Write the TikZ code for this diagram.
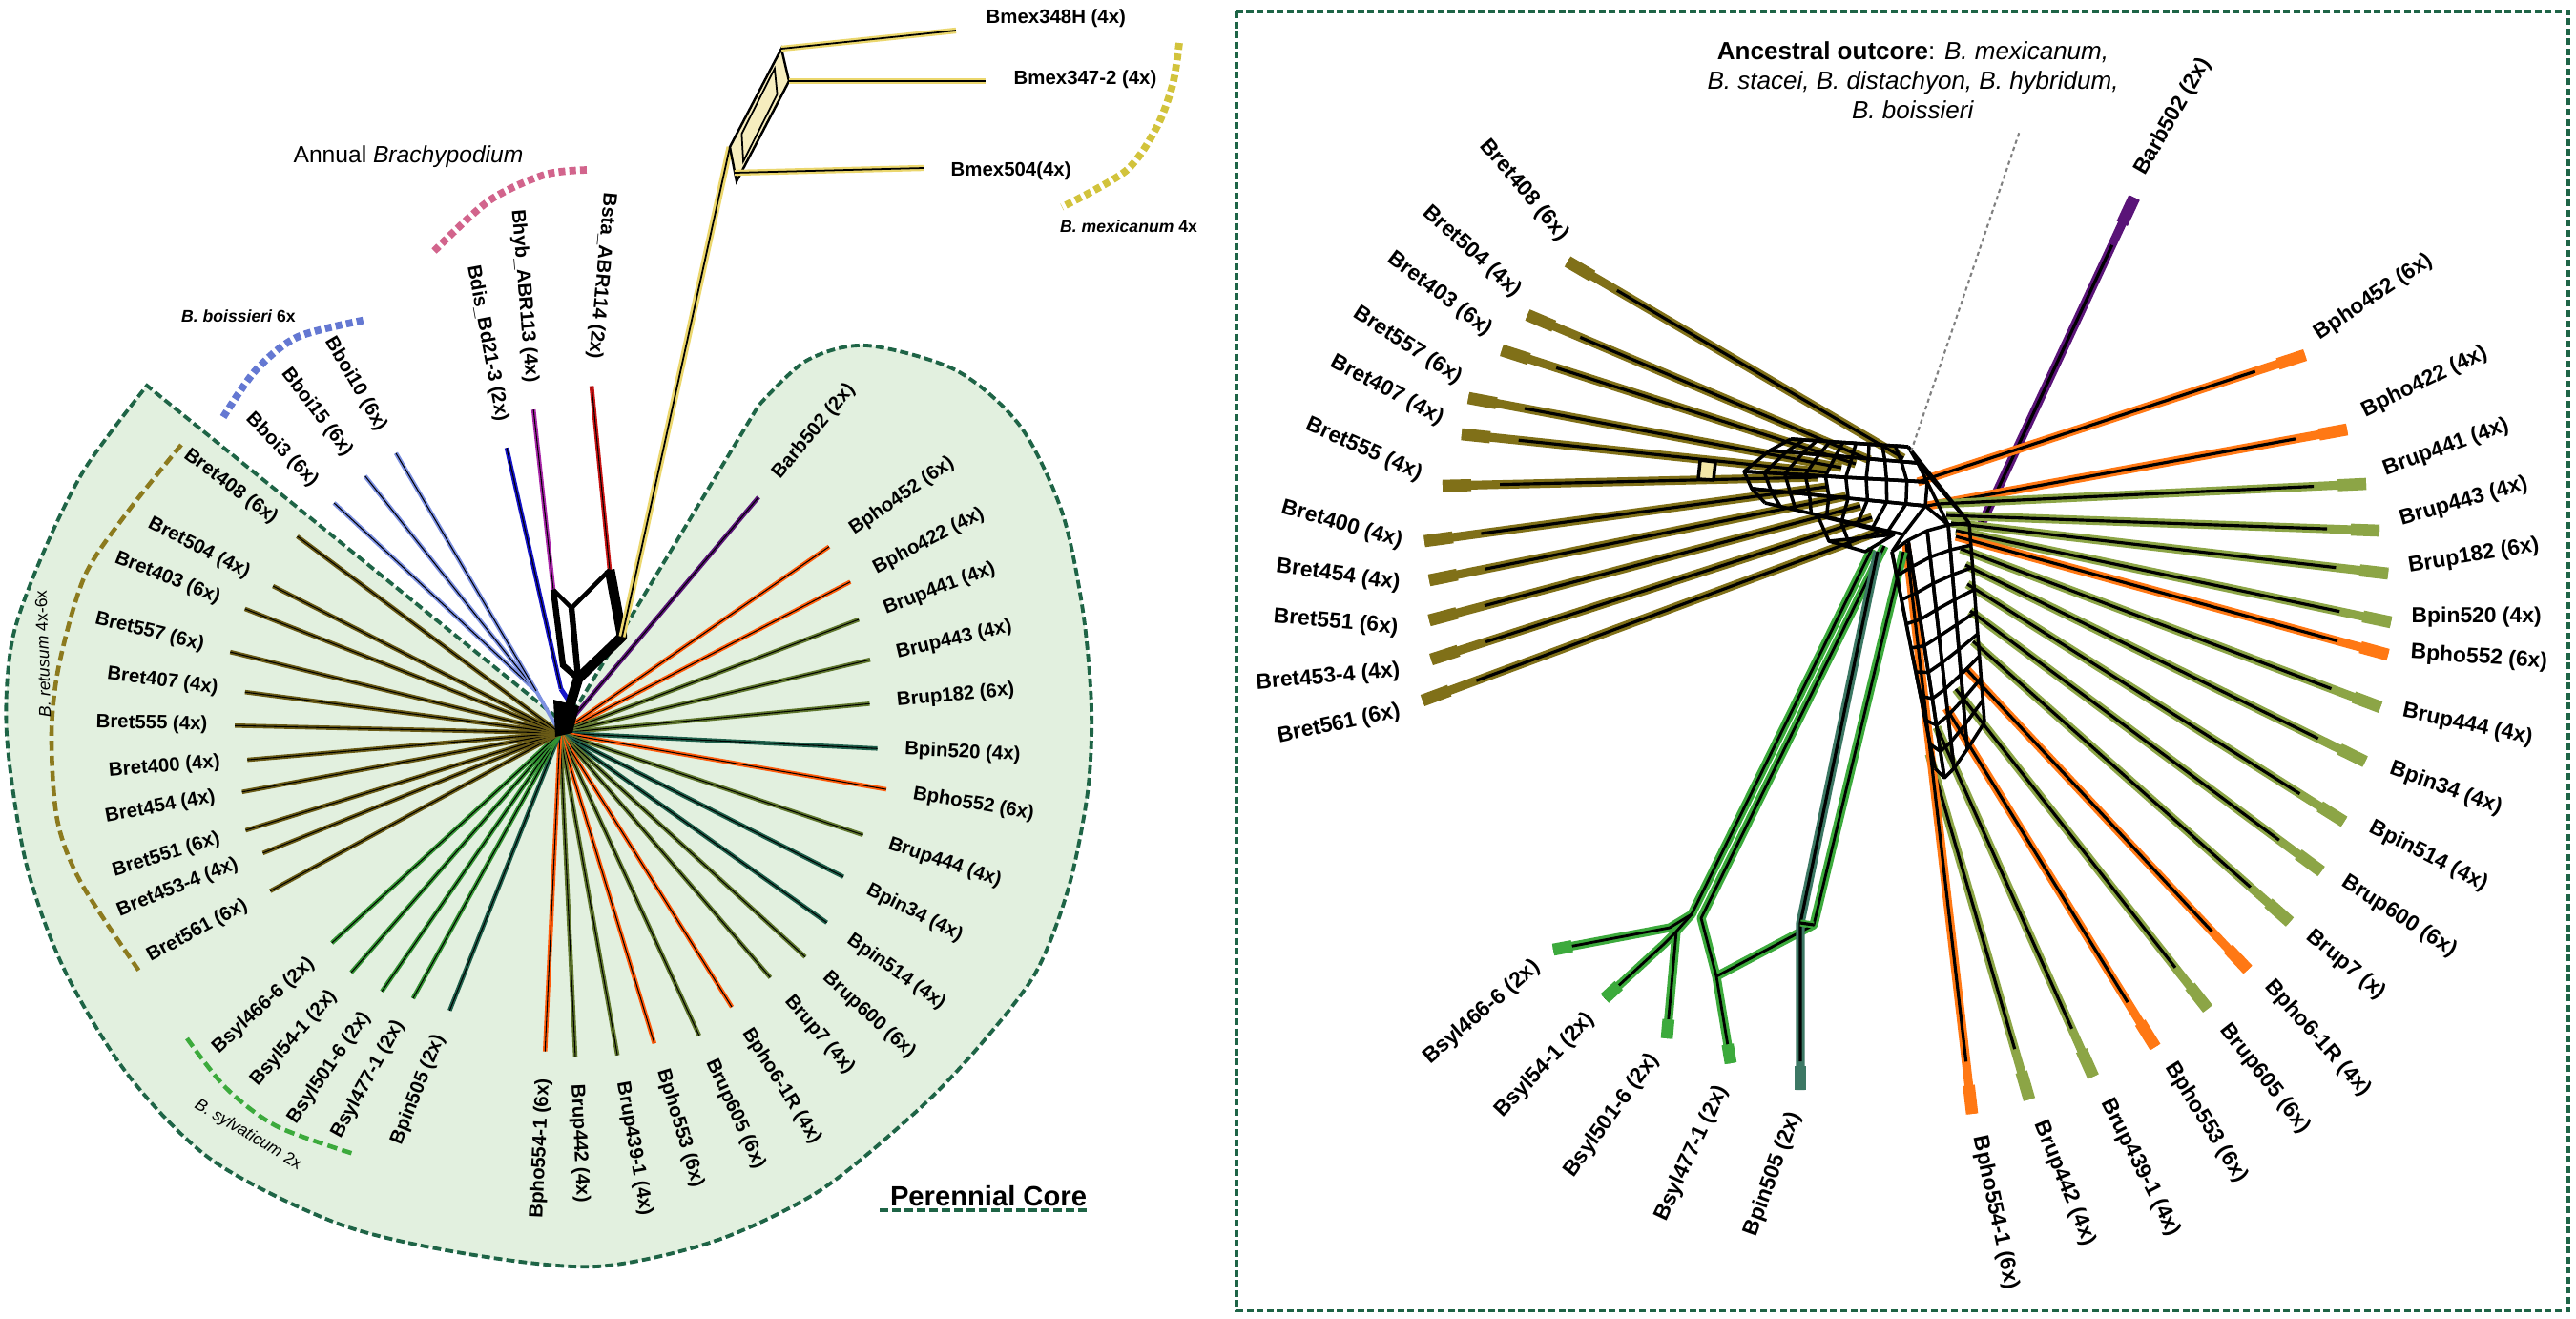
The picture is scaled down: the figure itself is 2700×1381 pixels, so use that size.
\documentclass[tikz,border=0pt]{standalone}
\usepackage{fontspec}
\setmainfont{Liberation Sans}
\usetikzlibrary{calc}

\definecolor{corefill}{RGB}{226,240,223}
\definecolor{coreline}{RGB}{30,100,70}
\definecolor{retL}{RGB}{105,90,22}
\definecolor{phoL}{RGB}{255,90,10}
\definecolor{rupL}{RGB}{95,118,45}
\definecolor{pinL}{RGB}{30,95,75}
\definecolor{sylL}{RGB}{50,145,50}
\definecolor{boiL}{RGB}{125,145,225}
\definecolor{disL}{RGB}{20,20,200}
\definecolor{hybL}{RGB}{170,40,170}
\definecolor{staL}{RGB}{200,20,20}
\definecolor{arbL}{RGB}{90,20,120}
\definecolor{mexL}{RGB}{235,215,110}
\definecolor{retR}{RGB}{128,112,24}
\definecolor{phoR}{RGB}{255,120,20}
\definecolor{rupR}{RGB}{140,165,70}
\definecolor{sylR}{RGB}{60,170,60}
\definecolor{pinR}{RGB}{60,120,100}
\definecolor{annArc}{RGB}{210,100,140}
\definecolor{boiArc}{RGB}{100,120,210}
\definecolor{mexArc}{RGB}{210,195,60}
\definecolor{retArc}{RGB}{140,122,30}

\tikzset{
  taxon/.style={font=\bfseries\fontsize{5.8}{6}\selectfont, inner sep=0pt},
  taxonR/.style={font=\bfseries\fontsize{6.5}{7}\selectfont, inner sep=0pt},
  grouplab/.style={font=\fontsize{5}{6}\selectfont, inner sep=0pt},
  branch/.style={line width=1.3pt},
  core/.style={line width=0.3pt, black},
  band/.style={line width=2.6pt},
  bandtip/.style={line width=3.6pt},
  bandcore/.style={line width=0.9pt, black},
  mesh/.style={line width=1pt, black, line join=round},
  grouparc/.style={line width=2.2pt, dash pattern=on 2pt off 1.2pt},
  coredash/.style={coreline, line width=1.1pt, dash pattern=on 2.5pt off 1.2pt}
}

\begin{document}
\begin{tikzpicture}[x=0.01cm,y=-0.01cm]
\useasboundingbox (0,0) rectangle (2700,1381);

% perennial core
\draw[coredash, fill=corefill] (584,752) -- (154,404) -- plot[smooth] coordinates {(154,404) (89,491) (45,580) (13,670) (7,769) (27,903) (67,1015) (134,1126) (223,1216) (357,1283) (491,1314) (625,1327) (750,1300) (860,1247) (960,1165) (1023,1100) (1085,1020) (1120,930) (1140,830) (1144,742) (1135,640) (1113,536) (1069,446) (1002,388) (908,362) (845,378) (795,425)} -- (606,738) -- cycle;

\draw[retArc, line width=1.3pt, dash pattern=on 3pt off 1.5pt] plot[smooth] coordinates {(190,466) (134,536) (89,603) (62,696) (54,769) (60,859) (85,925) (147,1019)};
\draw[sylR, line width=1.3pt, dash pattern=on 3pt off 1.5pt] plot[smooth] coordinates {(196,1088) (237,1140) (290,1180) (371,1209)};
\draw[grouparc, boiArc] plot[smooth] coordinates {(234,437) (268,388) (312,353) (384,335)};
\draw[grouparc, annArc] plot[smooth] coordinates {(455,263) (513,210) (571,183) (616,178)};
\draw[grouparc, mexArc] plot[smooth] coordinates {(1236,45) (1229,89) (1212,134) (1180,179) (1113,217)};

\node[font=\fontsize{7}{8}\selectfont] (annual) at (428,164) {Annual \textit{Brachypodium}};
\node[grouplab, font=\bfseries\fontsize{5}{6}\selectfont] (boiss) at (250,331) {\textit{B. boissieri} 6x};
\node[grouplab, font=\bfseries\fontsize{5}{6}\selectfont] (mexic) at (1183,237) {\textit{B. mexicanum} 4x};
\node[grouplab, rotate=92] (retus) at (45,685) {\textit{B. retusum} 4x-6x};
\node[grouplab, rotate=-31] (sylva) at (260,1189) {\textit{B. sylvaticum} 2x};
\node[font=\bfseries\fontsize{8.3}{9}\selectfont, inner sep=0pt] (perc) at (1036,1253) {Perennial Core};
\coordinate (pcA) at (922,1268);
\coordinate (pcB) at (1143,1268);
\draw[coredash] (pcA) -- (pcB);

% left network
\coordinate (L) at (587,768);
\coordinate (nA) at (580,618);
\coordinate (nB) at (599,637);
\coordinate (nC) at (639,597);
\coordinate (nD) at (652,667);
\coordinate (nE) at (590,697);
\coordinate (nF) at (606,711);
\coordinate (nG) at (598,737);
\coordinate (kB) at (562,724);
\coordinate (kD) at (588,722);

\foreach \ang/\rad/\col/\txt [count=\idx] in {
  49.9/323/arbL/Barb502 (2x), 34.7/343/phoL/Bpho452 (6x),
  27.5/343/phoL/Bpho422 (4x), 20.8/335/rupL/Brup441 (4x),
  13.3/334/rupL/Brup443 (4x), 5.4/326/rupL/Brup182 (6x),
  -2.8/333/pinL/Bpin520 (4x), -9.8/347/phoL/Bpho552 (6x),
  -18.6/335/rupL/Brup444 (4x), -26.9/333/pinL/Bpin34 (4x),
  -35.4/343/pinL/Bpin514 (4x), -42.4/348/rupL/Brup600 (6x),
  -49.3/338/rupL/Brup7 (4x), -57.9/339/phoL/Bpho6-1R (4x),
  -65.3/349/rupL/Brup605 (6x), -73.1/340/phoL/Bpho553 (6x),
  -79.9/343/rupL/Brup439-1 (4x), -87.3/340/rupL/Brup442 (4x)}{
  \coordinate (lr\idx) at ($(L)+({-1*(\ang)}:\rad)$);
  \draw[branch,\col] (L) -- (lr\idx);
  \draw[core] (L) -- (lr\idx);
  \node[taxon, anchor=west, rotate=\ang] (lrn\idx) at ($(L)+({-1*(\ang)}:{\rad+28})$) {\txt};
}

\foreach \ang/\rad/\col/\txt [count=\idx] in {
  267.3/334/phoL/Bpho554-1 (6x), 248.3/313/pinL/Bpin505 (2x),
  241/318/sylL/Bsyl477-1 (2x), 235.4/329/sylL/Bsyl501-6 (2x),
  228.9/333/sylL/Bsyl54-1 (2x), 222.6/325/sylL/Bsyl466-6 (2x),
  208.6/346/retL/Bret561 (6x), 202/336/retL/Bret453-4 (4x),
  197.2/345/retL/Bret551 (6x), 190.5/339/retL/Bret454 (4x),
  184.9/329/retL/Bret400 (4x), 178.7/341/retL/Bret555 (4x),
  172.6/333/retL/Bret407 (4x), 166.2/356/retL/Bret557 (6x),
  158.5/355/retL/Bret403 (6x), 152.9/338/retL/Bret504 (4x),
  143.2/344/retL/Bret408 (6x)}{
  \coordinate (ll\idx) at ($(L)+({-1*(\ang)}:\rad)$);
  \draw[branch,\col] (L) -- (ll\idx);
  \draw[core] (L) -- (ll\idx);
  \node[taxon, anchor=east, rotate=\ang-180] (lln\idx) at ($(L)+({-1*(\ang)}:{\rad+28})$) {\txt};
}

\foreach \ang/\rad/\col/\txt/\via [count=\idx] in {
  134.5/338/boiL/Bboi3 (6x)/kB, 127.2/338/boiL/Bboi15 (6x)/kB,
  120.4/340/boiL/Bboi10 (6x)/kB, 100.6/304/disL/Bdis\_Bd21-3 (2x)/kD,
  94.7/340/hybL/Bhyb\_ABR113 (4x)/nA, 84.8/365/staL/Bsta\_ABR114 (2x)/nC}{
  \coordinate (lu\idx) at ($(L)+({-1*(\ang)}:\rad)$);
  \draw[branch,\col] (lu\idx) -- (\via);
  \draw[core] (lu\idx) -- (\via);
  \node[taxon, anchor=east, rotate=\ang-180] (lun\idx) at ($(L)+({-1*(\ang)}:{\rad+28})$) {\txt};
}
\draw[boiL, line width=1.1pt] (kB) -- (L);
\draw[disL, line width=1.4pt] (kD) -- (nG);

\draw[line width=1.3pt] (nA) -- (nB) -- (nC);
\draw[line width=1.8pt] (nA) -- (nE) -- (nF);
\draw[line width=1.8pt] (nB) -- (nF);
\draw[line width=3pt, line join=round] (nC) -- (nD) -- (nF) -- (nG) -- (L);
\fill (580,733) -- (607,740) -- (600,768) -- (582,772) -- cycle;

% mexicanum
\coordinate (mx0) at (765,154);
\coordinate (mx1) at (819,51);
\coordinate (mx2) at (827,85);
\coordinate (mx3) at (772,190);
\coordinate (mx4) at (770,181);
\coordinate (mt1) at (1002,32);
\coordinate (mt2) at (1033,85);
\coordinate (mt3) at (968,176);
\draw[mexL, line width=2pt] (nD) -- (mx0);
\draw[core, line width=0.5pt] (nD) -- (mx0);
\draw[black, fill=mexL!45, line width=0.7pt] (mx0) -- (mx1) -- (mx2) -- (mx3) -- cycle;
\draw[black, line width=0.5pt] ($(mx0)!0.2!(mx2)$) -- ($(mx1)!0.15!(mx3)$) -- ($(mx2)!0.2!(mx0)$) -- ($(mx3)!0.15!(mx1)$) -- cycle;
\foreach \p/\q in {mx1/mt1, mx2/mt2, mx4/mt3}{
  \draw[mexL, line width=1.8pt] (\p) -- (\q);
  \draw[core, line width=0.5pt] (\p) -- (\q);
}
\node[taxon, anchor=west] (mex1) at (1033,19) {Bmex348H (4x)};
\node[taxon, anchor=west] (mex2) at (1062,83) {Bmex347-2 (4x)};
\node[taxon, anchor=west] (mex3) at (996,179) {Bmex504(4x)};

% right panel
\draw[coredash, line width=1.1pt, dash pattern=on 2pt off 1pt] (1296,12) rectangle (2692,1373);
\node[font=\fontsize{7.4}{8.8}\selectfont, align=center, inner sep=0pt] (anc) at (2005,84)
  {\textbf{Ancestral outcore}: \textit{B. mexicanum,}\\ \textit{B. stacei, B. distachyon, B. hybridum,}\\ \textit{B. boissieri}};
\coordinate (ancTip) at (2117,137);
\coordinate (knot) at (2003,473);

\foreach \sx/\sy/\tx/\ty/\col/\lx/\ly/\rot/\txt [count=\idx] in {
  2076/551/2237/207/arbL/2243/182/60/Barb502 (2x),
  2010/505/2416/372/phoR/2428/352/34/Bpho452 (6x),
  2020/530/2460/450/phoR/2476/432/26/Bpho422 (4x),
  2030/528/2480/507/rupR/2498/493/20/Brup441 (4x),
  2040/540/2494/556/rupR/2515/545/16/Brup443 (4x),
  2045/548/2503/601/rupR/2524/594/9.5/Brup182 (6x),
  2050/556/2506/652/rupR/2527/647/0/Bpin520 (4x),
  2050/562/2503/686/phoR/2526/684/-4/Bpho552 (6x),
  2055/575/2495/741/rupR/2518/745/-12/Brup444 (4x),
  2060/592/2479/798/rupR/2505/805/-20/Bpin34 (4x),
  2062/612/2457/861/rupR/2484/866/-27/Bpin514 (4x),
  2065/640/2433/913/rupR/2456/922/-33/Brup600 (6x),
  2068/672/2400/966/rupR/2420/978/-40/Brup7 (x),
  2060/700/2356/1016/phoR/2377/1030/-48/Bpho6-1R (4x),
  2050/722/2314/1057/rupR/2331/1075/-52/Brup605 (6x),
  2040/742/2259/1097/phoR/2274/1115/-58/Bpho553 (6x),
  2030/762/2194/1128/rupR/2207/1152/-63/Brup439-1 (4x),
  2022/790/2127/1152/rupR/2138/1175/-68/Brup442 (4x),
  1998/570/2067/1167/phoR/2074/1190/-78/Bpho554-1 (6x)}{
  \coordinate (rs\idx) at (\sx,\sy);
  \coordinate (rt\idx) at (\tx,\ty);
  \draw[band,\col] (rs\idx) -- (rt\idx);
  \draw[bandtip,\col] ($(rt\idx)!0.3cm!(rs\idx)$) -- (rt\idx);
  \draw[bandcore] (rs\idx) -- ($(rt\idx)!0.55cm!(rs\idx)$);
  \node[taxonR, anchor=west, rotate=\rot] (rn\idx) at (\lx,\ly) {\txt};
}

\foreach \sx/\sy/\tx/\ty/\lx/\ly/\rot/\txt [count=\idx] in {
  1995/480/1643/274/1640/250/-50/Bret408 (6x),
  1960/482/1601/330/1592/308/-42/Bret504 (4x),
  1945/486/1574/367/1562/348/-37/Bret403 (6x),
  1930/490/1539/417/1531/398/-33/Bret557 (6x),
  1915/495/1532/455/1512/440/-28/Bret407 (4x),
  1905/500/1512/509/1490/498/-24/Bret555 (4x),
  1915/510/1493/567/1470/568/-16/Bret400 (4x),
  1935/520/1498/608/1468/612/-8/Bret454 (4x),
  1950/530/1498/650/1466/658/-5/Bret551 (6x),
  1962/542/1500/691/1468/703/5/Bret453-4 (4x),
  1972/556/1491/734/1468/745/12/Bret561 (6x)}{
  \coordinate (es\idx) at (\sx,\sy);
  \coordinate (et\idx) at (\tx,\ty);
  \draw[band,retR] (es\idx) -- (et\idx);
  \draw[bandtip,retR] ($(et\idx)!0.3cm!(es\idx)$) -- (et\idx);
  \draw[bandcore] (es\idx) -- ($(et\idx)!0.6cm!(es\idx)$);
  \node[taxonR, anchor=east, rotate=\rot] (en\idx) at (\lx,\ly) {\txt};
}
\draw[mesh, fill=mexL!60] (1782,482) -- (1798,484) -- (1796,503) -- (1780,502) -- cycle;

% sylvaticum part
\coordinate (sy0) at (1962,575);
\coordinate (sy1) at (1975,572);
\coordinate (sy2) at (1995,578);
\coordinate (pn0) at (1968,578);
\coordinate (sn1) at (1773,958);
\coordinate (sn1b) at (1783,962);
\coordinate (sn2) at (1750,972);
\coordinate (sn3) at (1757,976);
\coordinate (sn4) at (1743,990);
\coordinate (sn5) at (1799,1023);
\coordinate (sn6) at (1901,969);
\coordinate (pn1) at (1887,967);
\coordinate (st1) at (1628,995);
\coordinate (st2) at (1682,1046);
\coordinate (st3) at (1747,1088);
\coordinate (st4) at (1814,1114);
\coordinate (pt1) at (1887,1142);
\foreach \lay/\wid in {sylR/2.6pt, black/0.8pt}{
  \draw[\lay, line width=\wid, line join=round] (sy0) -- (sn1) -- (sn2) -- (st1);
  \draw[\lay, line width=\wid, line join=round] (sy1) -- (sn1b) -- (sn5) -- (st4);
  \draw[\lay, line width=\wid, line join=round] (sn1) -- (sn3) -- (sn4) -- (st2);
  \draw[\lay, line width=\wid] (sn3) -- (st3);
  \draw[\lay, line width=\wid, line join=round] (sn5) -- (sn6) -- (sy2);
}
\draw[pinR, line width=2.6pt, line join=round] (pn0) -- (pn1) -- (pt1);
\draw[bandcore, line join=round] (pn0) -- (pn1) -- ($(pt1)!0.3cm!(pn1)$);
\draw[sylR, line width=2pt] (pn1) -- (sn6);
\draw[bandcore] (pn1) -- (sn6);
\foreach \q/\p in {st1/sn2, st2/sn4, st3/sn3, st4/sn5}
  \draw[bandtip,sylR] ($(\q)!0.2cm!(\p)$) -- (\q);
\draw[bandtip,pinR] ($(pt1)!0.25cm!(pn1)$) -- (pt1);

\foreach \lx/\ly/\rot/\txt [count=\idx] in {
  1612/1010/41/Bsyl466-6 (2x), 1668/1064/47/Bsyl54-1 (2x),
  1735/1106/54/Bsyl501-6 (2x), 1806/1138/65/Bsyl477-1 (2x),
  1882/1166/70/Bpin505 (2x)}
  \node[taxonR, anchor=east, rotate=\rot] (sl\idx) at (\lx,\ly) {\txt};

% reticulate core
\foreach \j/\ax/\ay/\bx/\by in {0/1877/460/2000/468, 1/1855/472/2010/485, 2/1828/494/2020/505, 3/1836/512/2018/530, 4/1850/527/1995/560}
  \foreach \i in {0,...,9}
    \coordinate (arm-\i-\j) at ($(\ax,\ay)!\i/9!(\bx,\by)$);
\foreach \j/\ax/\ay/\bx/\by in {0/1983/578/2028/805, 1/2000/566/2038/815, 2/2020/556/2048/805, 3/2042/550/2062/785, 4/2064/548/2080/757}
  \foreach \i in {0,...,9}
    \coordinate (trk-\i-\j) at ($(\ax,\ay)!\i/9!(\bx,\by)$);
\foreach \m in {arm,trk}{
  \foreach \j in {0,...,4}
    \draw[mesh] (\m-0-\j) \foreach \i in {1,...,9}{ -- (\m-\i-\j)};
  \foreach \i in {0,...,9}
    \draw[mesh] (\m-\i-0) -- (\m-\i-1) -- (\m-\i-2) -- (\m-\i-3) -- (\m-\i-4);
  \foreach \i [evaluate=\i as \ii using int(\i+1)] in {0,...,8}
    \foreach \j [evaluate=\j as \jj using int(\j+1)] in {0,...,3}
      \draw[mesh] (\m-\i-\j) -- (\m-\ii-\jj);
}
\foreach \i [evaluate=\i as \ii using int(\i+1)] in {0,2,...,8}
  \foreach \j [evaluate=\j as \jj using int(\j+1)] in {0,...,3}
    \draw[mesh] (arm-\ii-\j) -- (arm-\i-\jj);
\draw[mesh] (arm-9-0) -- (trk-0-4) -- (arm-9-1);
\draw[mesh] (arm-9-2) -- (trk-0-3) -- (arm-9-3);
\draw[mesh] (arm-9-4) -- (trk-0-0);
\draw[mesh] (1905,540) -- (1917,567) -- (1955,578) -- (1985,560) -- cycle;
\draw[mesh] (1917,567) -- (1985,560);
\draw[mesh] (1930,548) -- (1940,574);
\draw[gray, line width=0.6pt, dash pattern=on 1.2pt off 1pt] (knot) -- (ancTip);
\end{tikzpicture}
\end{document}
